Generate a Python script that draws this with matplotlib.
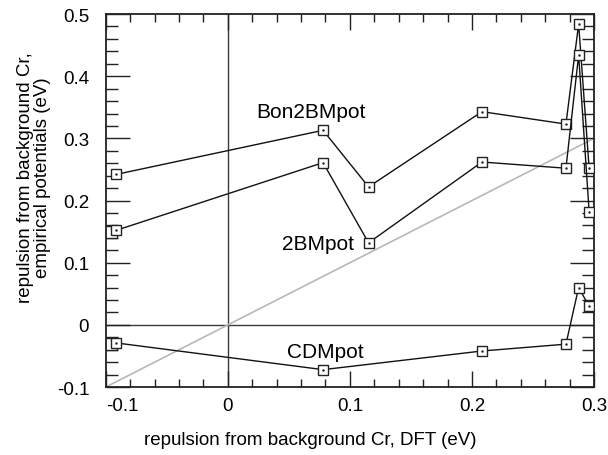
import matplotlib.pyplot as plt
from matplotlib.ticker import MultipleLocator

plt.rcParams['font.family'] = ['Liberation Sans', 'DejaVu Sans']

# DFT repulsion (x) and the empirical-potential values (y)
dft = [-0.0916, 0.078, 0.1153, 0.2082, 0.277, 0.2874, 0.2960]
bon2bm = [0.242, 0.313, 0.222, 0.343, 0.323, 0.484, 0.252]
twobm = [0.152, 0.261, 0.132, 0.262, 0.252, 0.434, 0.182]
cdm_x = [-0.0916, 0.078, 0.2082, 0.277, 0.2874, 0.2960]
cdm = [-0.029, -0.072, -0.042, -0.031, 0.060, 0.030]

# extra squares half hidden at the left edge
edge_x = [-0.0955, -0.0955]
edge_y = [0.150, -0.030]

labels = ["Bon2BMpot", "2BMpot", "CDMpot"]
label_x = [0.068, 0.074, 0.080]
label_y = [0.343, 0.131, -0.043]

xticks = [-0.1, 0, 0.1, 0.2, 0.3]
xticklabels = ["-0.1", "0", "0.1", "0.2", "0.3"]
yticks = [-0.1, 0, 0.1, 0.2, 0.3, 0.4, 0.5]
yticklabels = ["-0.1", "0", "0.1", "0.2", "0.3", "0.4", "0.5"]

fig = plt.figure(figsize=(6.08, 4.56), dpi=100)
ax = fig.add_axes([0.174, 0.149, 0.803, 0.818])

ax.axhline(0, color='#3a3a3a', lw=1.0, zorder=1)
ax.axvline(0, color='#3a3a3a', lw=1.0, zorder=1)
ax.axline((0, 0), slope=1, color='#b8b8b8', lw=1.2, zorder=1)

ax.plot(edge_x, edge_y, ls='none', marker='s', ms=8.5, mfc='white',
        mec='#222222', mew=1.0, zorder=2)

for xs, ys in [(dft, bon2bm), (dft, twobm), (cdm_x, cdm)]:
    ax.plot(xs, ys, color='#111111', lw=1.0, marker='s', ms=6.7,
            mfc='white', mec='#222222', mew=1.0, zorder=3)
    ax.plot(xs, ys, ls='none', marker='.', ms=1.5, color='#222222', zorder=4)

for t, lx, ly in zip(labels, label_x, label_y):
    ax.text(lx, ly, t, fontsize=15, ha='center', va='center')

ax.set_xlim(-0.1, 0.3)
ax.set_ylim(-0.1, 0.5)
ax.set_xticks(xticks, xticklabels)
ax.set_yticks(yticks, yticklabels)
ax.xaxis.set_minor_locator(MultipleLocator(0.02))
ax.yaxis.set_minor_locator(MultipleLocator(0.02))

ax.tick_params(which='both', direction='in', top=True, right=True,
               labelsize=13.5, width=1.0, color='#222222')
ax.xaxis.set_tick_params(which='major', length=11.5, pad=7)
ax.xaxis.set_tick_params(which='minor', length=5.8)
ax.yaxis.set_tick_params(which='major', length=17, pad=12)
ax.yaxis.set_tick_params(which='minor', length=8.6)
for s in ax.spines.values():
    s.set_linewidth(1.3)
    s.set_color('#222222')

# the first x label sits to the right of its tick, as in the original
ax.xaxis.get_major_ticks()[0].label1.set_horizontalalignment('left')

fig.text(0.51, 0.035, "repulsion from background Cr, DFT (eV)",
         fontsize=13.5, ha='center', va='center')
fig.text(0.056, 0.61, "repulsion from background Cr,\nempirical potentials (eV)",
         fontsize=13.5, ha='center', va='center', rotation=90, linespacing=1.05)

fig.savefig("out.png", dpi=100)
